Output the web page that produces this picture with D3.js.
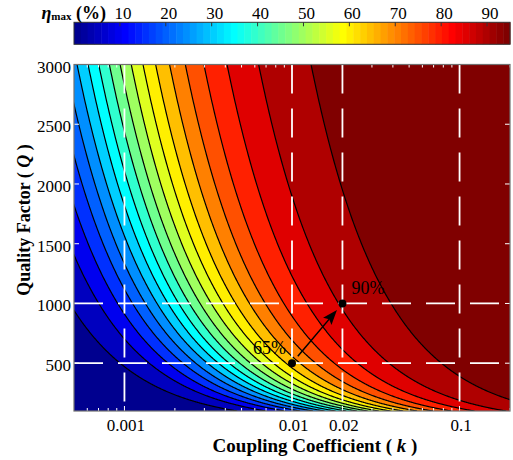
<!DOCTYPE html>
<html>
<head>
<meta charset="utf-8">
<script src="https://cdn.jsdelivr.net/npm/d3@7"></script>
<style>
  html, body { margin: 0; padding: 0; background: #fff; }
  svg { display: block; }
  text { font-family: "Liberation Serif", "Times New Roman", serif; fill: #000; }
</style>
</head>
<body>
<svg id="chart" width="513" height="460"></svg>
<script>
// Contour levels of maximum link efficiency (%) and the coupling-quality
// product k·Q at which each iso-efficiency curve sits.
const levels = [5, 10, 15, 20, 25, 30, 35, 40, 45, 50, 55, 60, 65, 70, 75, 80, 85, 90, 95];
const kqAtLevel = [0.471, 0.703, 0.911, 1.118, 1.333, 1.565, 1.820, 2.108, 2.439, 2.828,
                   3.296, 3.873, 4.607, 5.578, 6.928, 8.944, 12.29, 18.97, 38.99];

// Axis ranges and ticks
const kRange = [0.0005, 0.2];
const qRange = [100, 3000];
const kTicks = [0.001, 0.01, 0.02, 0.1];
const kTickLabels = ["0.001", "0.01", "0.02", "0.1"];
const qTicks = [500, 1000, 1500, 2000, 2500, 3000];
const colorRange = [0, 95];
const colorTicks = [10, 20, 30, 40, 50, 60, 70, 80, 90];

// Reference lines and marked operating points
const kGrid = [0.001, 0.01, 0.02, 0.1];
const qGrid = [500, 1000];
const points = [
  { k: 0.01, q: 500, label: "65%" },
  { k: 0.02, q: 1000, label: "90%" }
];

const svg = d3.select("#chart");
const plot = { left: 74, right: 510, top: 64.5, bottom: 411 };
const bar = { top: 22.3, bottom: 44.3 };

const x = d3.scaleLog().domain(kRange).range([plot.left, plot.right]);
const y = d3.scaleLinear().domain(qRange).range([plot.bottom, plot.top]);
const c = d3.scaleLinear().domain(colorRange).range([plot.left, plot.right]);

// 64-entry jet colour map
function jet64() {
  const m = 64, n = 16;
  const u = [];
  for (let i = 1; i <= n; i++) u.push(i / n);
  for (let i = 1; i < n; i++) u.push(1);
  for (let i = n; i >= 1; i--) u.push(i / n);
  const pick = j => (j >= 1 && j <= u.length) ? u[j - 1] : 0;
  const out = [];
  for (let i = 1; i <= m; i++) {
    const r = pick(i - 24), g = pick(i - 8), b = pick(i + 8);
    out.push(d3.rgb(r * 255, g * 255, b * 255).toString());
  }
  return out;
}
const cmap = jet64();
const colorOf = v => {
  const t = (v - colorRange[0]) / (colorRange[1] - colorRange[0]);
  return cmap[Math.max(0, Math.min(63, Math.floor(t * 64)))];
};

svg.append("defs").append("clipPath").attr("id", "plotClip")
  .append("rect")
  .attr("x", plot.left).attr("y", plot.top)
  .attr("width", plot.right - plot.left).attr("height", plot.bottom - plot.top);

const field = svg.append("g").attr("clip-path", "url(#plotClip)");

// Base band (below the first level)
field.append("rect")
  .attr("x", plot.left).attr("y", plot.top)
  .attr("width", plot.right - plot.left).attr("height", plot.bottom - plot.top)
  .attr("fill", colorOf(0));

// Sample the Q axis (log spaced) for tracing iso-kQ curves
const qSamples = d3.range(0, 401).map(i => qRange[0] * Math.pow(qRange[1] / qRange[0], i / 400));
const curve = kq => qSamples.slice().reverse().map(q => [x(kq / q), y(q)]);
const line = d3.line();

// Filled regions: everything at or above each level
levels.forEach((lv, i) => {
  const pts = curve(kqAtLevel[i]);
  const farRight = plot.right + 2000;
  const poly = pts.concat([[farRight, y(qRange[0]) + 5], [farRight, y(qRange[1]) - 5]]);
  poly.unshift([pts[0][0], y(qRange[1]) - 5]);
  field.append("path")
    .attr("d", line(poly) + "Z")
    .attr("fill", colorOf(lv))
    .attr("stroke", "none");
});

// Contour lines
levels.forEach((lv, i) => {
  const ext = [[x(kqAtLevel[i] / (qRange[1] * 1.05)), y(qRange[1] * 1.05)]]
    .concat(curve(kqAtLevel[i]));
  field.append("path")
    .attr("d", line(ext))
    .attr("fill", "none")
    .attr("stroke", "#000")
    .attr("stroke-width", 1.2);
});

// Dashed white reference lines
const grid = svg.append("g").attr("clip-path", "url(#plotClip)");
kGrid.forEach(k => {
  grid.append("line")
    .attr("x1", x(k)).attr("x2", x(k))
    .attr("y1", plot.top).attr("y2", plot.bottom)
    .attr("stroke", "#fff").attr("stroke-width", 1.8)
    .attr("stroke-dasharray", "29,15");
});
qGrid.forEach(q => {
  grid.append("line")
    .attr("x1", plot.left).attr("x2", plot.right)
    .attr("y1", y(q)).attr("y2", y(q))
    .attr("stroke", "#fff").attr("stroke-width", 1.8)
    .attr("stroke-dasharray", "29,15");
});

// Tick marks on all four sides (white, pointing inward)
const ticks = svg.append("g").attr("stroke", "#fff").attr("stroke-width", 1);
const minorK = [];
[-4, -3, -2, -1].forEach(e => {
  for (let m = 1; m <= 9; m++) {
    const v = m * Math.pow(10, e);
    if (v >= kRange[0] * 1.0001 && v <= kRange[1] * 1.0001 && !kTicks.some(t => Math.abs(t - v) / v < 1e-6)) minorK.push(v);
  }
});
minorK.forEach(v => {
  ticks.append("line").attr("x1", x(v)).attr("x2", x(v)).attr("y1", plot.bottom).attr("y2", plot.bottom - 3);
  ticks.append("line").attr("x1", x(v)).attr("x2", x(v)).attr("y1", plot.top).attr("y2", plot.top + 3);
});
kTicks.forEach(v => {
  ticks.append("line").attr("x1", x(v)).attr("x2", x(v)).attr("y1", plot.bottom).attr("y2", plot.bottom - 5);
  ticks.append("line").attr("x1", x(v)).attr("x2", x(v)).attr("y1", plot.top).attr("y2", plot.top + 5);
});
qTicks.forEach(v => {
  ticks.append("line").attr("x1", plot.left).attr("x2", plot.left + 5).attr("y1", y(v)).attr("y2", y(v));
  ticks.append("line").attr("x1", plot.right).attr("x2", plot.right - 5).attr("y1", y(v)).attr("y2", y(v));
});

// Axes box
svg.append("rect")
  .attr("x", plot.left).attr("y", plot.top)
  .attr("width", plot.right - plot.left).attr("height", plot.bottom - plot.top)
  .attr("fill", "none").attr("stroke", "#707070").attr("stroke-width", 1.2);

// Tick labels
svg.append("g").selectAll("text").data(kTicks).join("text")
  .attr("x", d => x(d) + 1.5).attr("y", 430.5)
  .attr("text-anchor", "middle").attr("font-size", 17)
  .text((d, i) => kTickLabels[i]);
svg.append("g").selectAll("text").data(qTicks).join("text")
  .attr("x", 71).attr("y", d => y(d) + 8)
  .attr("text-anchor", "end").attr("font-size", 17)
  .text(d => d);

// Axis titles
const xt = svg.append("text").attr("x", 315).attr("y", 451.5)
  .attr("text-anchor", "middle").attr("font-size", 19).attr("font-weight", "bold");
xt.append("tspan").text("Coupling Coefficient ( ");
xt.append("tspan").attr("font-style", "italic").text("k");
xt.append("tspan").text(" )");

const yt = svg.append("text")
  .attr("transform", "translate(30,220) rotate(-90)")
  .attr("text-anchor", "middle").attr("font-size", 18).attr("font-weight", "bold");
yt.append("tspan").text("Quality Factor ( ");
yt.append("tspan").attr("font-style", "italic").text("Q");
yt.append("tspan").text(" )");

// Operating points and the arrow between them
const p0 = [x(points[0].k), y(points[0].q)];
const p1 = [x(points[1].k), y(points[1].q)];
const dx = p1[0] - p0[0], dy = p1[1] - p0[1];
const len = Math.hypot(dx, dy);
const ux = dx / len, uy = dy / len;
const start = [p0[0] + ux * 9, p0[1] + uy * 9];
const tip = [p1[0] - ux * 8.5, p1[1] - uy * 8.5];
const headLen = 15, headHalf = 5.5, notch = 3;
const base = [tip[0] - ux * headLen, tip[1] - uy * headLen];
svg.append("line")
  .attr("x1", start[0]).attr("y1", start[1])
  .attr("x2", base[0] + ux * notch).attr("y2", base[1] + uy * notch)
  .attr("stroke", "#000").attr("stroke-width", 1.5);
svg.append("path")
  .attr("d", line([
    tip,
    [base[0] - uy * headHalf, base[1] + ux * headHalf],
    [base[0] + ux * notch, base[1] + uy * notch],
    [base[0] + uy * headHalf, base[1] - ux * headHalf]
  ]) + "Z")
  .attr("fill", "#000");

svg.append("g").selectAll("circle").data(points).join("circle")
  .attr("cx", d => x(d.k)).attr("cy", d => y(d.q)).attr("r", 4)
  .attr("fill", "#000");

svg.append("text").attr("x", p0[0] - 6).attr("y", p0[1] - 9)
  .attr("text-anchor", "end").attr("font-size", 18).text(points[0].label);
svg.append("text").attr("x", p1[0] + 9).attr("y", p1[1] - 9)
  .attr("text-anchor", "start").attr("font-size", 18).text(points[1].label);

// Colour bar
const cb = svg.append("g");
cmap.forEach((col, i) => {
  const v0 = colorRange[0] + (colorRange[1] - colorRange[0]) * i / 64;
  const v1 = colorRange[0] + (colorRange[1] - colorRange[0]) * (i + 1) / 64;
  cb.append("rect")
    .attr("x", c(v0)).attr("y", bar.top)
    .attr("width", c(v1) - c(v0) + 0.5).attr("height", bar.bottom - bar.top)
    .attr("fill", col);
});
cb.append("rect")
  .attr("x", plot.left).attr("y", bar.top)
  .attr("width", plot.right - plot.left).attr("height", bar.bottom - bar.top)
  .attr("fill", "none").attr("stroke", "#333").attr("stroke-width", 1);
colorTicks.forEach(v => {
  cb.append("line").attr("x1", c(v)).attr("x2", c(v))
    .attr("y1", bar.top).attr("y2", bar.top + 4)
    .attr("stroke", "#333").attr("stroke-width", 1);
});
cb.selectAll("text.ct").data(colorTicks).join("text").attr("class", "ct")
  .attr("x", d => c(d) + 3).attr("y", 18.5)
  .attr("text-anchor", "middle").attr("font-size", 17)
  .text(d => d);

const ct = svg.append("text").attr("x", 106).attr("y", 18.5)
  .attr("text-anchor", "end").attr("font-weight", "bold").attr("font-size", 18);
ct.append("tspan").attr("font-style", "italic").text("η");
ct.append("tspan").attr("font-size", 11).attr("dy", 1).text("max");
ct.append("tspan").attr("dy", -1).text(" (%)");
</script>
</body>
</html>
